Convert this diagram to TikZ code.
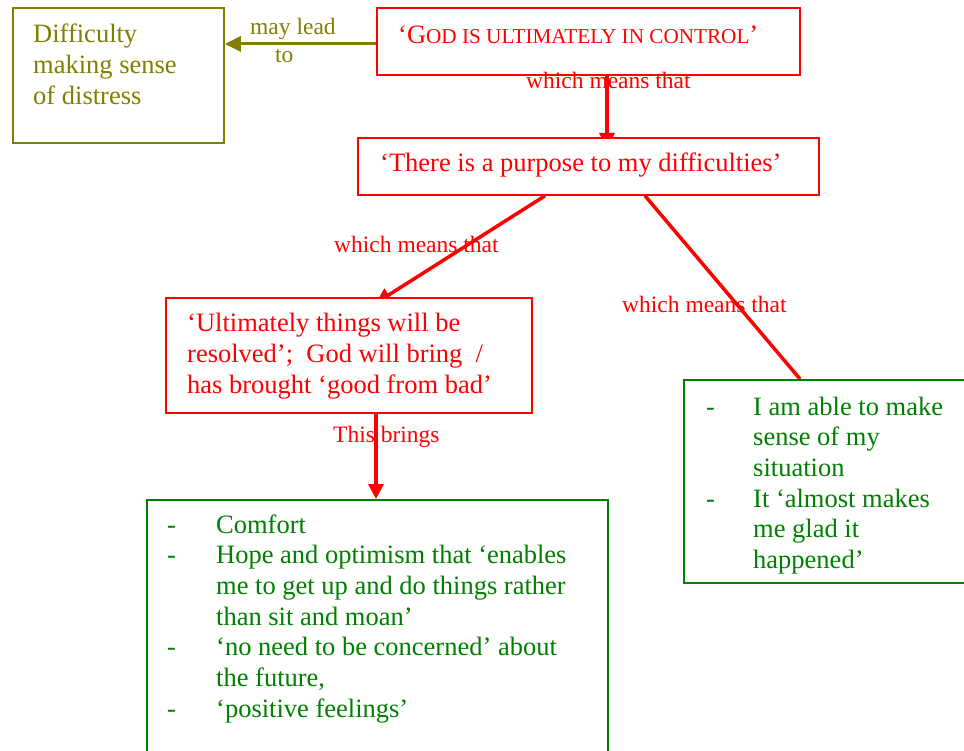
\documentclass[tikz,border=0pt]{standalone}
\usepackage{fontspec}
\setmainfont{Liberation Serif}
\usetikzlibrary{arrows.meta,calc}
\definecolor{olivec}{RGB}{128,128,0}
\definecolor{redc}{RGB}{255,0,0}
\definecolor{greenc}{RGB}{0,128,0}
\pgfdeclarelayer{bg}
\pgfsetlayers{bg,main}
\newcommand{\boxfont}{\fontsize{26.5}{30.7}\selectfont}
\newcommand{\labfont}{\fontsize{23.5}{28}\selectfont}
\newcommand{\scfont}{\fontsize{21.2}{25}\selectfont}

\begin{document}
\begin{tikzpicture}[x=1pt,y=-1pt,
  panel/.style={draw, line width=1.8pt, fill=white, rectangle, inner sep=0pt, anchor=north west},
  txt/.style={anchor=base west, inner sep=0pt, font=\boxfont},
  lab/.style={anchor=base west, inner sep=0pt, font=\labfont},
  redlink/.style={draw=redc, line width=3.5pt},
  redarrow/.style={redlink, -{Triangle[length=15pt,width=15pt]}},
  olivearrow/.style={draw=olivec, line width=3pt, -{Triangle[length=16pt,width=15pt]}}]
\useasboundingbox (0,0) rectangle (964,751);
\clip (0,0) rectangle (964,751);

% boxes
\node[panel, draw=olivec, minimum width=211pt, minimum height=135pt] (distress) at (12,7) {};
\node[panel, draw=redc, minimum width=423pt, minimum height=67pt] (god) at (376,7) {};
\node[panel, draw=redc, minimum width=461pt, minimum height=57pt] (purpose) at (357,137) {};
\node[panel, draw=redc, minimum width=366pt, minimum height=115pt] (resolved) at (165,297) {};
\node[panel, draw=greenc, minimum width=461pt, minimum height=300pt] (comfort) at (146,499) {};
\node[panel, draw=greenc, minimum width=320pt, minimum height=203pt] (sense) at (683,379) {};

% box texts
\node[txt, text=olivec] (distresstxt) at (33,43)
  {\begin{tabular}[t]{@{}l@{}}Difficulty\\making sense\\of distress\end{tabular}};
\node[txt, text=redc] (godtxt) at (398,44)
  {‘G{\scfont OD IS ULTIMATELY IN CONTROL}’};
\node[txt, text=redc] (purposetxt) at (380,172)
  {‘There is a purpose to my difficulties’};
\node[txt, text=redc] (resolvedtxt) at (187,332)
  {\begin{tabular}[t]{@{}l@{}}‘Ultimately things will be\\resolved’;\ \ God will bring\ \ /\\has brought ‘good from bad’\end{tabular}};
\node[txt, text=greenc] (comforttxt) at (167,533)
  {\begin{tabular}[t]{@{}p{49pt}@{}l@{}}
   -&Comfort\\
   -&Hope and optimism that ‘enables\\
    &me to get up and do things rather\\
    &than sit and moan’\\
   -&‘no need to be concerned’ about\\
    &the future,\\
   -&‘positive feelings’
  \end{tabular}};
\node[txt, text=greenc] (sensetxt) at (706,415)
  {\begin{tabular}[t]{@{}p{47pt}@{}l@{}}
   -&I am able to make\\
    &sense of my\\
    &situation\\
   -&It ‘almost makes\\
    &me glad it\\
    &happened’
  \end{tabular}};

% connector labels
\node[lab, text=olivec] (leadlab) at (250,35)
  {\begin{tabular}[t]{@{}l@{}}may lead\\\hspace*{25pt}to\end{tabular}};
\node[lab, text=redc] (meanslabA) at (526,89) {which means that};
\node[lab, text=redc] (meanslabB) at (334,253) {which means that};
\node[lab, text=redc] (meanslabC) at (622,313) {which means that};
\node[lab, text=redc] (bringslab) at (333,442) {This brings};

% connectors (behind the boxes)
\begin{pgfonlayer}{bg}
\draw[olivearrow] ([yshift=-2.5pt]god.west) -- ([yshift=-2.5pt]god.west -| distress.east);
\coordinate (godout) at ([xshift=231pt]god.south west);
\draw[redarrow] (godout) -- ($(godout |- purpose.north)+(0,11)$);
\coordinate (purpA) at ([xshift=188pt]purpose.south west);
\coordinate (resIn) at ([xshift=220pt]resolved.north west);
\draw[redarrow] (purpA) -- ($(resIn)+(-9,6)$);
\coordinate (purpB) at ([xshift=288pt]purpose.south west);
\draw[redlink] (purpB) -- ([xshift=117pt]sense.north west);
\coordinate (resOut) at ([xshift=211pt]resolved.south west);
\draw[redarrow] (resOut) -- (resOut |- comfort.north);
\end{pgfonlayer}
\end{tikzpicture}
\end{document}
